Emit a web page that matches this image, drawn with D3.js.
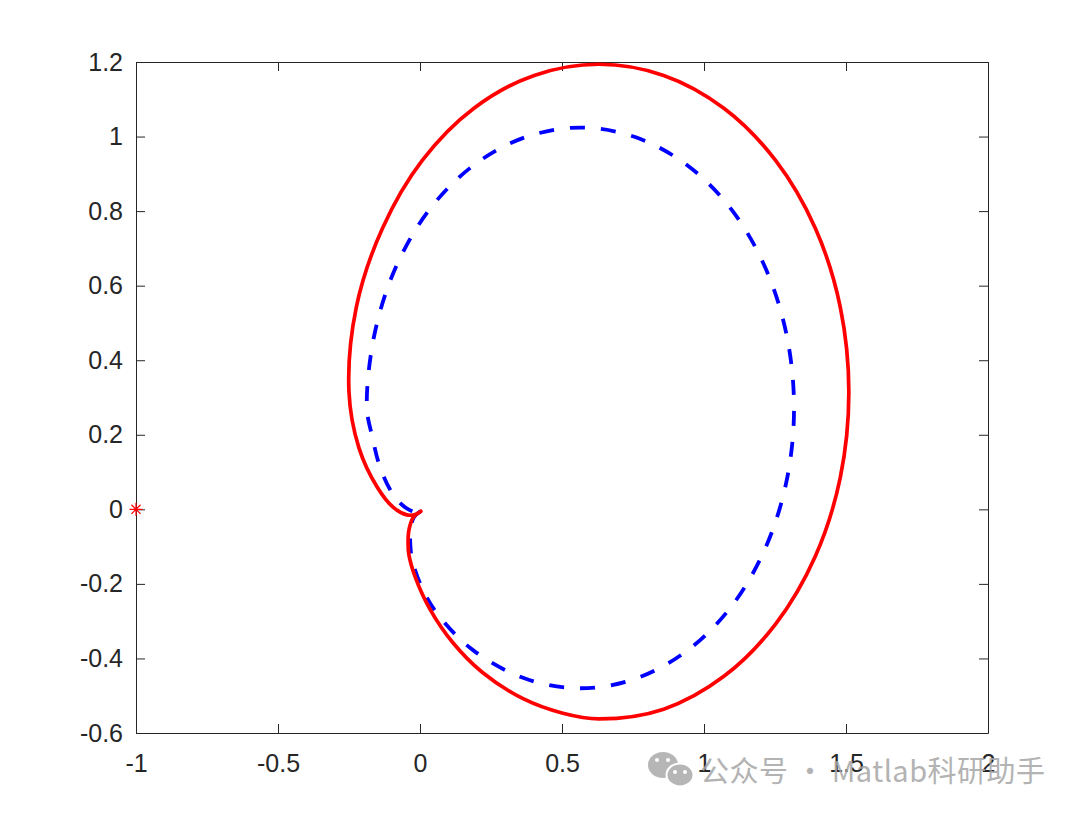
<!DOCTYPE html>
<html>
<head>
<meta charset="utf-8">
<script src="https://cdn.jsdelivr.net/npm/d3@7"></script>
<style>
  body { margin: 0; background: #fff; }
  text { font-family: "Liberation Sans", Arial, sans-serif; }
</style>
</head>
<body>
<svg id="chart" width="1080" height="814"></svg>
<script>
// values
const xTicks = [-1, -0.5, 0, 0.5, 1, 1.5, 2];
const yTicks = [-0.6, -0.4, -0.2, 0, 0.2, 0.4, 0.6, 0.8, 1, 1.2];

// solid red curve, [re, im]
const redCurve = [
  [0.003, -0.005], [-0.025, -0.023], [-0.039, -0.056], [-0.042, -0.090], [-0.039, -0.122],
  [-0.017, -0.181], [0.036, -0.269], [0.116, -0.358], [0.219, -0.437], [0.363, -0.508],
  [0.503, -0.547], [0.630, -0.562], [0.858, -0.536], [1.070, -0.448], [1.252, -0.308],
  [1.392, -0.126], [1.480, 0.086], [1.510, 0.314], [1.480, 0.542], [1.392, 0.754],
  [1.252, 0.936], [1.070, 1.076], [0.858, 1.164], [0.630, 1.194], [0.402, 1.164],
  [0.190, 1.076], [0.008, 0.936], [-0.132, 0.754], [-0.224, 0.543], [-0.250, 0.314],
  [-0.215, 0.165], [-0.151, 0.060], [-0.095, 0.006], [-0.046, -0.015], [-0.014, -0.013],
  [0.003, -0.005]
];

// dashed blue curve, [re, im]
const blueCurve = [
  [0.003, -0.005], [-0.022, -0.022], [-0.033, -0.055], [-0.034, -0.096], [-0.027, -0.137],
  [0.011, -0.217], [0.070, -0.289], [0.189, -0.379], [0.370, -0.454], [0.565, -0.480],
  [0.760, -0.454], [0.941, -0.379], [1.097, -0.260], [1.216, -0.104], [1.291, 0.077],
  [1.317, 0.272], [1.291, 0.467], [1.216, 0.648], [1.097, 0.804], [0.941, 0.923],
  [0.760, 0.998], [0.565, 1.024], [0.370, 0.998], [0.189, 0.923], [0.033, 0.804],
  [-0.086, 0.648], [-0.161, 0.467], [-0.187, 0.272], [-0.168, 0.195], [-0.144, 0.121],
  [-0.106, 0.054], [-0.069, 0.016], [-0.036, -0.002], [-0.012, -0.008], [0.003, -0.005]
];

// critical point marker
const critPoint = [[-1, 0]];

const box = {left: 136, right: 988, top: 62, bottom: 733, tick: 9};
const axisColor = "#262626";

const svg = d3.select("#chart");

const x = d3.scaleLinear().domain([-1, 2]).range([box.left, box.right]);
const y = d3.scaleLinear().domain([-0.6, 1.2]).range([box.bottom, box.top]);

const fmt = d => (Math.round(d * 10) / 10).toString();

const axisG = svg.append("g").attr("class", "axes");

// bottom / top
axisG.append("g")
  .attr("transform", `translate(0,${box.bottom})`)
  .call(d3.axisBottom(x).tickValues(xTicks).tickFormat(fmt).tickSizeInner(-box.tick).tickSizeOuter(0).tickPadding(21));
axisG.append("g")
  .attr("transform", `translate(0,${box.top})`)
  .call(d3.axisTop(x).tickValues(xTicks).tickFormat("").tickSizeInner(-box.tick).tickSizeOuter(0));
// left / right
axisG.append("g")
  .attr("transform", `translate(${box.left},0)`)
  .call(d3.axisLeft(y).tickValues(yTicks).tickFormat(fmt).tickSizeInner(-box.tick).tickSizeOuter(0).tickPadding(13));
axisG.append("g")
  .attr("transform", `translate(${box.right},0)`)
  .call(d3.axisRight(y).tickValues(yTicks).tickFormat("").tickSizeInner(-box.tick).tickSizeOuter(0));

axisG.selectAll("path.domain").attr("stroke", axisColor).attr("stroke-width", 1);
axisG.selectAll(".tick line").attr("stroke", axisColor).attr("stroke-width", 1);
axisG.selectAll(".tick text")
  .attr("fill", axisColor)
  .style("font-size", "25px")
  .style("font-family", "'Liberation Sans', Arial, sans-serif");

const line = d3.line()
  .x(d => x(d[0]))
  .y(d => y(d[1]))
  .curve(d3.curveCatmullRom.alpha(0.5));

svg.append("path")
  .datum(blueCurve)
  .attr("fill", "none")
  .attr("stroke", "#0000ff")
  .attr("stroke-width", 3.8)
  .attr("stroke-dasharray", "15,16")
  .attr("d", line);

svg.append("path")
  .datum(redCurve)
  .attr("fill", "none")
  .attr("stroke", "#ff0000")
  .attr("stroke-width", 3.7)
  .attr("stroke-linejoin", "round")
  .attr("stroke-linecap", "round")
  .attr("d", line);

// '*' marker
const star = svg.selectAll("g.crit")
  .data(critPoint)
  .join("g")
    .attr("class", "crit")
    .attr("transform", d => `translate(${x(d[0])},${y(d[1])})`);
const s = 6.5;
star.append("path")
  .attr("stroke", "#ff0000")
  .attr("stroke-width", 1.2)
  .attr("fill", "none")
  .attr("d", `M${-s},0H${s}M0,${-s}V${s}M${-s*0.7},${-s*0.7}L${s*0.7},${s*0.7}M${-s*0.7},${s*0.7}L${s*0.7},${-s*0.7}`);

// watermark
const wm = svg.append("g").attr("class", "watermark").attr("opacity", 0.85);
wm.append("ellipse").attr("cx", 663).attr("cy", 765).attr("rx", 15).attr("ry", 13).attr("fill", "#aaaaaa");
wm.append("ellipse").attr("cx", 680).attr("cy", 775).attr("rx", 13.5).attr("ry", 11.5)
  .attr("fill", "#aaaaaa").attr("stroke", "#fff").attr("stroke-width", 2);
[[657, 760], [668, 760], [675, 772], [685, 772]].forEach(p => {
  wm.append("circle").attr("cx", p[0]).attr("cy", p[1]).attr("r", 2).attr("fill", "#fff");
});
wm.append("text")
  .attr("x", 700)
  .attr("y", 782)
  .attr("fill", "#a6a6a6")
  .attr("textLength", 345)
  .attr("lengthAdjust", "spacing")
  .style("font-family", "'Noto Sans CJK SC', 'Noto Sans', sans-serif")
  .style("font-size", "29px")
  .text("公众号 · Matlab科研助手");
</script>
</body>
</html>
